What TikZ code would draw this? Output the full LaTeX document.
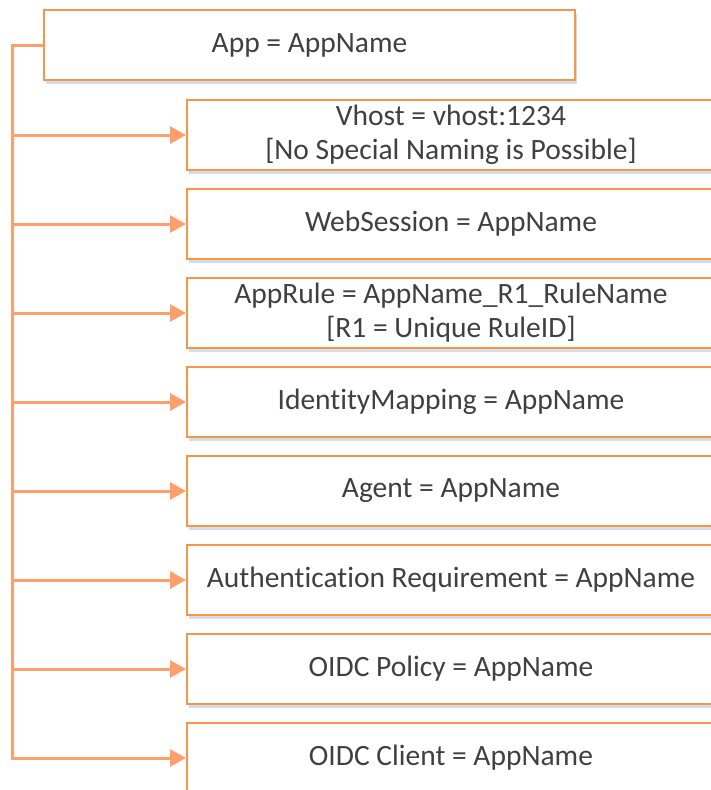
\documentclass[tikz,border=0pt]{standalone}
\usepackage{fontspec}
\setmainfont{Carlito}[RawFeature={-liga;-dlig}]
\usetikzlibrary{arrows.meta,positioning,shadows}
\definecolor{boxorange}{HTML}{F79646}
\definecolor{lineorange}{HTML}{FF9F6B}
\definecolor{shadowblue}{HTML}{D3DCE9}
\definecolor{textgray}{HTML}{404040}

\begin{document}
\begin{tikzpicture}[
    x=1pt, y=-1pt,
    node distance=17pt,
    box/.style={draw=boxorange, line width=2pt, fill=white, align=center,
      minimum height=70pt, inner sep=0pt, text=textgray,
      font=\fontsize{29.5}{34}\selectfont,
      drop shadow={shadow xshift=2pt, shadow yshift=-4pt, fill=shadowblue, opacity=1}},
    childbox/.style={box, minimum width=528pt},
    link/.style={draw=lineorange, line width=3pt, -{Triangle[length=16pt, width=17pt]}}
]
\clip (0,0) rectangle (711,790);
\useasboundingbox (0,0) rectangle (711,790);
\node[box, minimum width=531pt] (app) at (309.5,45) {App = AppName};
\node[childbox, anchor=north west] (vhost) at (186,99) {Vhost = vhost:1234\\{[}No Special Naming is Possible{]}};
\node[childbox, below=of vhost] (websess) {WebSession = AppName};
\node[childbox, below=of websess] (apprule) {AppRule = AppName\_R1\_RuleName\\{[}R1 = Unique RuleID{]}};
\node[childbox, below=of apprule] (idmap) {IdentityMapping = AppName};
\node[childbox, below=of idmap] (agent) {Agent = AppName};
\node[childbox, below=of agent] (authreq) {Authentication Requirement = AppName};
\node[childbox, below=of authreq] (oidcpol) {OIDC Policy = AppName};
\node[childbox, below=of oidcpol] (oidccli) {OIDC Client = AppName};
\coordinate (trunk) at (12,45);
% trunk down to the last box
\draw[link] (app.west) -- (trunk) |- (oidccli.west);
\foreach \b in {vhost,websess,apprule,idmap,agent,authreq,oidcpol}
  \draw[link] (trunk |- \b.west) -- (\b.west);
\end{tikzpicture}
\end{document}
